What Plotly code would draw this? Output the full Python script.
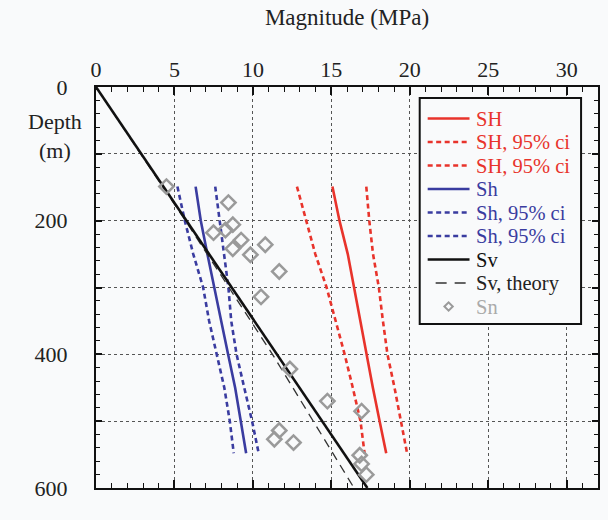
import plotly.graph_objects as go

# ---------------- data ----------------
band_depth = [149, 200, 250, 300, 350, 400, 450, 500, 548]

SH_mid  = [15.07, 15.52, 16.05, 16.45, 16.85, 17.22, 17.65, 18.08, 18.50]
SH_low  = [12.81, 13.42, 13.98, 14.70, 15.28, 15.85, 16.37, 16.86, 17.12]
SH_high = [17.23, 17.42, 17.66, 18.03, 18.29, 18.58, 19.03, 19.45, 19.83]

Sh_mid  = [6.35, 6.68, 7.10, 7.56, 7.98, 8.42, 8.87, 9.23, 9.57]
Sh_low  = [5.19, 5.66, 6.20, 6.83, 7.21, 7.68, 8.18, 8.53, 8.78]
Sh_high = [7.60, 7.87, 8.18, 8.44, 8.62, 8.96, 9.45, 9.95, 10.37]

Sv_depth = [0, 600]
Sv_vals = [0, 17.3]
Sv_theory_depth = [0, 200, 400, 600]
Sv_theory_vals = [0, 5.70, 11.25, 16.45]

Sn_depth = [149, 173, 218, 214, 206, 229, 242, 251, 236, 276, 314,
            422, 470, 514, 527, 532, 485, 551, 564, 580]
Sn_vals = [4.49, 8.44, 7.49, 8.25, 8.72, 9.25, 8.72, 9.84, 10.79, 11.68, 10.52,
           12.36, 14.75, 11.68, 11.37, 12.59, 16.93, 16.81, 16.93, 17.23]

x_ticks = [0, 5, 10, 15, 20, 25, 30]
y_ticks = [0, 100, 200, 300, 400, 500, 600]
y_ticktext = ["0", "", "200", "", "400", "", "600"]

legend_labels = ["SH", "SH, 95% ci", "SH, 95% ci", "Sh", "Sh, 95% ci", "Sh, 95% ci",
                 "Sv", "Sv, theory", "Sn"]

# ---------------- styles ----------------
RED = "#e8332b"
BLUE = "#3a3ca0"
BLACK = "#111111"
GRAY = "#9a9a9a"
BG = "#f9fafb"
FONT = "Liberation Serif, Times New Roman, serif"
SHORT_DASH = "5px,3.5px"
THEORY_DASH = "9px,6px"

styles = [
    dict(color=RED, dash="solid", width=2.6),
    dict(color=RED, dash=SHORT_DASH, width=2.6),
    dict(color=RED, dash=SHORT_DASH, width=2.6),
    dict(color=BLUE, dash="solid", width=2.6),
    dict(color=BLUE, dash=SHORT_DASH, width=2.6),
    dict(color=BLUE, dash=SHORT_DASH, width=2.6),
    dict(color=BLACK, dash="solid", width=2.6),
    dict(color="#333333", dash=THEORY_DASH, width=1.3),
]
text_colors = [RED, RED, RED, BLUE, BLUE, BLUE, BLACK, "#222222", "#aaaaaa"]

fig = go.Figure()


def add_line(x, y, st):
    fig.add_trace(go.Scatter(x=x, y=y, mode="lines", line=st,
                             showlegend=False, hoverinfo="skip"))


add_line(SH_low, band_depth, styles[1])
add_line(SH_high, band_depth, styles[2])
add_line(SH_mid, band_depth, styles[0])
add_line(Sh_low, band_depth, styles[4])
add_line(Sh_high, band_depth, styles[5])
add_line(Sh_mid, band_depth, styles[3])
add_line(Sv_theory_vals, Sv_theory_depth, styles[7])
add_line(Sv_vals, Sv_depth, styles[6])

fig.add_trace(go.Scatter(
    x=Sn_vals, y=Sn_depth, mode="markers",
    marker=dict(symbol="diamond-open", size=11, color=GRAY, line=dict(width=2.5, color=GRAY)),
    showlegend=False, hoverinfo="skip"))

# ---------------- layout geometry ----------------
W, H = 608, 520
ML, MR, MT, MB = 96, 8, 87, 32
PW, PH = W - ML - MR, H - MT - MB


def px_x(p):
    return (p - ML) / PW


def px_y(p):
    return 1 - (p - MT) / PH


shapes = []
annotations = []

# custom legend box
shapes.append(dict(type="rect", xref="paper", yref="paper",
                   x0=px_x(421), x1=px_x(583), y0=px_y(324), y1=px_y(98),
                   line=dict(color=BLACK, width=2), fillcolor=BG, layer="above"))

row0, row_step = 118.5, 23.5
for i, lab in enumerate(legend_labels):
    yc = row0 + i * row_step
    if i < len(styles):
        st = styles[i]
        x_start = 437 if i == 7 else 429
        shapes.append(dict(type="line", xref="paper", yref="paper",
                           x0=px_x(x_start), x1=px_x(471), y0=px_y(yc), y1=px_y(yc),
                           line=dict(color=st["color"], width=st["width"] if i != 7 else 1.5,
                                     dash=st["dash"] if i != 7 else "11px,8px"),
                           layer="above"))
    else:
        cx, r = 450, 4.2
        path = "M {} {} L {} {} L {} {} L {} {} Z".format(
            px_x(cx - r), px_y(yc), px_x(cx), px_y(yc - r),
            px_x(cx + r), px_y(yc), px_x(cx), px_y(yc + r))
        shapes.append(dict(type="path", xref="paper", yref="paper", path=path,
                           line=dict(color=GRAY, width=2), layer="above"))
    annotations.append(dict(xref="paper", yref="paper", x=px_x(476), y=px_y(yc),
                            xanchor="left", yanchor="middle", showarrow=False,
                            text=lab, font=dict(family=FONT, size=20.5, color=text_colors[i])))

annotations.append(dict(xref="paper", yref="paper", x=px_x(55), y=px_y(136),
                        xanchor="center", yanchor="middle", showarrow=False,
                        text="Depth<br>(m)", font=dict(family=FONT, size=22, color="#222222")))

fig.update_layout(
    width=W, height=H,
    margin=dict(l=ML, r=MR, t=MT, b=MB, pad=0),
    paper_bgcolor=BG, plot_bgcolor=BG,
    font=dict(family=FONT, size=22, color="#222222"),
    showlegend=False,
    shapes=shapes, annotations=annotations,
)

fig.update_xaxes(
    side="top", range=[0, 32], tickvals=x_ticks,
    ticks="inside", ticklen=8, tickwidth=1.5, tickcolor=BLACK,
    showline=True, linewidth=2, linecolor=BLACK, mirror="ticks",
    showgrid=True, gridcolor="#555555", griddash="dot", gridwidth=1,
    zeroline=False, ticklabelstandoff=-1,
    tickfont=dict(family=FONT, size=22, color="#222222"),
    minor=dict(dtick=1, ticks="inside", ticklen=5, tickwidth=1.2, tickcolor=BLACK, showgrid=False),
    title=dict(text="Magnitude (MPa)", font=dict(family=FONT, size=23, color="#222222"), standoff=25),
)
fig.update_yaxes(
    range=[600, 0], tickvals=y_ticks, ticktext=y_ticktext,
    ticks="inside", ticklen=6, tickwidth=1.5, tickcolor=BLACK,
    showline=True, linewidth=2, linecolor=BLACK, mirror="ticks",
    showgrid=True, gridcolor="#555555", griddash="dot", gridwidth=1,
    zeroline=False, ticklabelstandoff=22,
    tickfont=dict(family=FONT, size=22, color="#222222"),
    minor=dict(dtick=20, ticks="inside", ticklen=4, tickwidth=1.2, tickcolor=BLACK, showgrid=False),
)

fig.write_html("out.html")
